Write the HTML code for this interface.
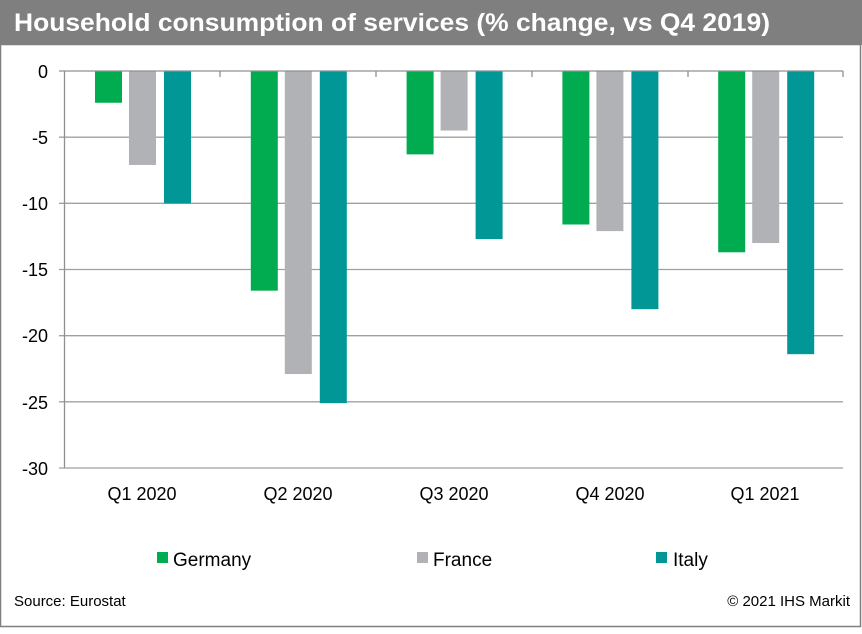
<!DOCTYPE html>
<html><head><meta charset="utf-8"><style>
body{margin:0;background:#fff;font-family:"Liberation Sans",Arial,sans-serif}
</style></head><body>
<svg width="862" height="629" xmlns="http://www.w3.org/2000/svg" font-family="Liberation Sans, Arial, sans-serif">
<rect x="0" y="0" width="862" height="629" fill="#fff"/>
<rect x="0" y="0" width="862" height="45" fill="#7f7f7f"/>
<text x="14" y="31" font-size="25" font-weight="bold" fill="#fff" textLength="756" lengthAdjust="spacingAndGlyphs">Household consumption of services (% change, vs Q4 2019)</text>
<rect x="0.5" y="44.5" width="860" height="582" fill="none" stroke="#7f7f7f" stroke-width="1.5"/>
<g stroke="#a0a0a0" stroke-width="1.3">
<line x1="59" y1="137.2" x2="843" y2="137.2"/>
<line x1="59" y1="203.3" x2="843" y2="203.3"/>
<line x1="59" y1="269.5" x2="843" y2="269.5"/>
<line x1="59" y1="335.7" x2="843" y2="335.7"/>
<line x1="59" y1="401.8" x2="843" y2="401.8"/>
<line x1="59" y1="468" x2="843" y2="468"/>
</g>
<g id="bars"></g>
<g stroke="#909090" stroke-width="1.3">
<line x1="59" y1="71" x2="843" y2="71"/>
<line x1="64.5" y1="71" x2="64.5" y2="468"/>
<line x1="220" y1="71" x2="220" y2="77"/>
<line x1="376" y1="71" x2="376" y2="77"/>
<line x1="532" y1="71" x2="532" y2="77"/>
<line x1="688" y1="71" x2="688" y2="77"/>
<line x1="843" y1="71" x2="843" y2="77"/>
</g>
<g font-size="18" fill="#000" text-anchor="end">
<text x="48" y="78">0</text><text x="48" y="144">-5</text><text x="48" y="210">-10</text>
<text x="48" y="276">-15</text><text x="48" y="342">-20</text><text x="48" y="409">-25</text><text x="48" y="475">-30</text>
</g>
<g font-size="18" fill="#000" text-anchor="middle">
<text x="142" y="500">Q1 2020</text><text x="298" y="500">Q2 2020</text><text x="454" y="500">Q3 2020</text>
<text x="610" y="500">Q4 2020</text><text x="765" y="500">Q1 2021</text>
</g>
<rect x="157" y="552" width="11" height="11" fill="#00ac4f"/><text x="173" y="566" font-size="19">Germany</text>
<rect x="417" y="552" width="11" height="11" fill="#b1b2b6"/><text x="433" y="566" font-size="19">France</text>
<rect x="656" y="552" width="11" height="11" fill="#009796"/><text x="673" y="566" font-size="19">Italy</text>
<text x="14" y="606" font-size="15">Source: Eurostat</text>
<text x="850" y="606" font-size="15" text-anchor="end">© 2021 IHS Markit</text>
<script>
var g=document.getElementById('bars'),d=[[-2.4,-16.6,-6.3,-11.6,-13.7],[-7.1,-22.9,-4.5,-12.1,-13.0],[-10.0,-25.1,-12.7,-18.0,-21.4]],c=['#00ac4f','#b1b2b6','#009796'],o=[31,65,100];
for(var s=0;s<3;s++)for(var i=0;i<5;i++){var r=document.createElementNS('http://www.w3.org/2000/svg','rect');var x=64+i*155.8+o[s];r.setAttribute('x',x);r.setAttribute('y',71);r.setAttribute('width',27);r.setAttribute('height',-d[s][i]*13.233);r.setAttribute('fill',c[s]);g.appendChild(r);}
</script>
</svg>
</body></html>
